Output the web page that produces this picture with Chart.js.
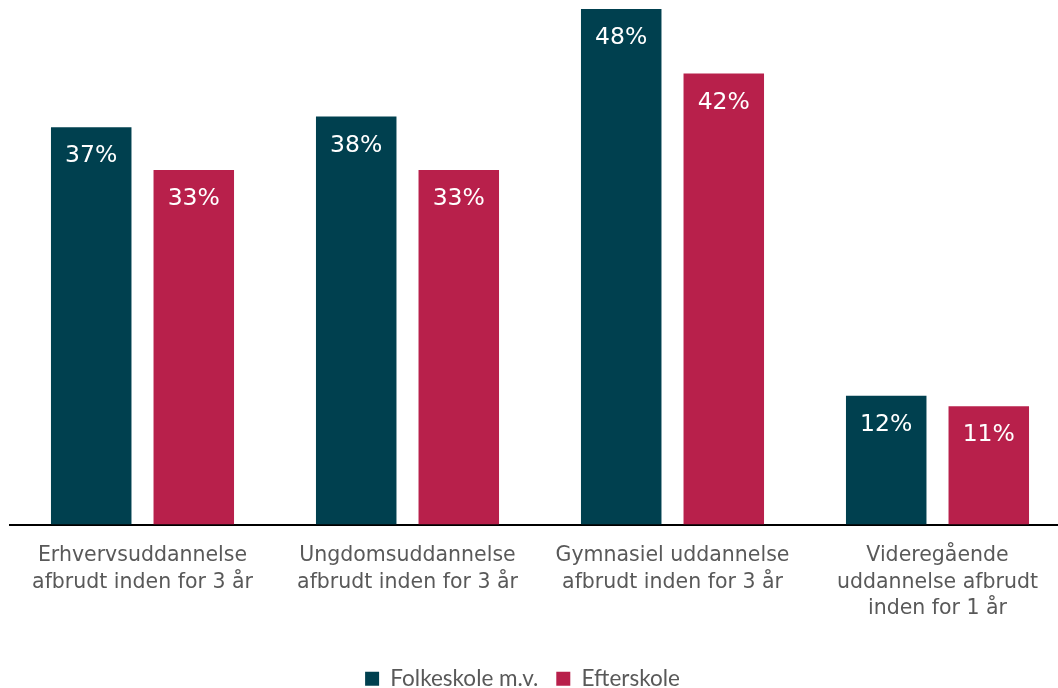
<!DOCTYPE html>
<html>
<head>
<meta charset="utf-8">
<script src="https://cdn.jsdelivr.net/npm/chart.js@4"></script>
<style>
  html, body { margin: 0; padding: 0; background: #fff; overflow: hidden; }
  #wrap { position: relative; width: 1095px; height: 700px; margin-left: -25px; }
</style>
</head>
<body>
<div id="wrap"><canvas id="dropoutChart"></canvas></div>
<script>
// Categories and values (percent)
const categories = [
    ['Erhvervsuddannelse', 'afbrudt inden for 3 år'],
    ['Ungdomsuddannelse', 'afbrudt inden for 3 år'],
    ['Gymnasiel uddannelse', 'afbrudt inden for 3 år'],
    ['Videregående', 'uddannelse afbrudt', 'inden for 1 år']
];
const folkeskole = [37, 38, 48, 12];
const efterskole = [33, 33, 42, 11];
const seriesNames = ['Folkeskole m.v.', 'Efterskole'];

const verdanaLike = 'Verdana, "DejaVu Sans", sans-serif';

// Value labels drawn inside the top of each bar
const valueLabels = {
    id: 'valueLabels',
    afterDatasetsDraw(chart) {
        const ctx = chart.ctx;
        ctx.save();
        ctx.fillStyle = '#ffffff';
        ctx.font = '23.5px ' + verdanaLike;
        ctx.textAlign = 'center';
        ctx.textBaseline = 'middle';
        chart.data.datasets.forEach((ds, i) => {
            chart.getDatasetMeta(i).data.forEach((bar, j) => {
                ctx.fillText(ds.data[j] + '%', bar.x, bar.y + 29);
            });
        });
        ctx.restore();
    }
};

const ctx = document.getElementById('dropoutChart').getContext('2d');
new Chart(ctx, {
    type: 'bar',
    data: {
        labels: categories,
        datasets: [{
            label: seriesNames[0],
            data: folkeskole,
            backgroundColor: '#00404f'
        }, {
            label: seriesNames[1],
            data: efterskole,
            backgroundColor: '#b8204b'
        }]
    },
    options: {
        responsive: true,
        maintainAspectRatio: false,
        animation: false,
        categoryPercentage: 0.774,
        barPercentage: 0.785,
        layout: { padding: { top: 9, left: 0, right: 0, bottom: 0 } },
        plugins: {
            tooltip: { enabled: false },
            legend: {
                position: 'bottom',
                labels: {
                    color: '#595959',
                    font: { family: 'Lato, "Open Sans", sans-serif', size: 22.5 },
                    boxWidth: 14,
                    boxHeight: 14,
                    padding: 18
                }
            }
        },
        scales: {
            x: {
                grid: { display: false },
                border: { display: true, color: '#000000', width: 2 },
                ticks: {
                    color: '#595959',
                    font: { family: verdanaLike, size: 20.5, lineHeight: 1.3 },
                    maxRotation: 0,
                    padding: 10
                },
                afterFit(scale) { scale.height = 125; }
            },
            y: {
                display: true,
                min: 0,
                max: 48,
                grid: { display: false },
                border: { display: false },
                ticks: { display: false },
                afterFit(scale) { scale.width = 35; }
            }
        }
    },
    plugins: [valueLabels]
});
</script>
</body>
</html>
